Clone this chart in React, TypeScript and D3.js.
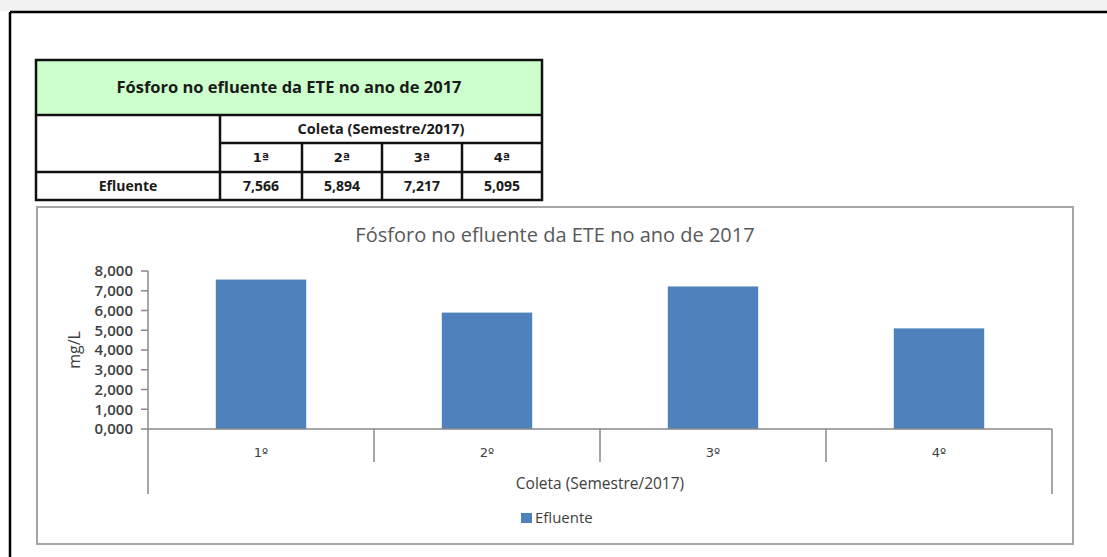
import React from "react";
import * as d3 from "d3";

const categories = ["1º", "2º", "3º", "4º"];
const tableHeaders = ["1ª", "2ª", "3ª", "4ª"];
const values = [7.566, 5.894, 7.217, 5.095];
const yTicks = [0, 1, 2, 3, 4, 5, 6, 7, 8];
const chartTitle = "Fósforo no efluente da ETE no ano de 2017";
const xTitle = "Coleta (Semestre/2017)";
const yTitle = "mg/L";
const seriesName = "Efluente";

const fmt = (v: number) => v.toFixed(3).replace(".", ",");

export default function App() {
  const W = 1107, H = 557;
  const x0 = 148, x1 = 1052, yTop = 271, yBot = 429;
  const x = d3.scaleBand<string>().domain(categories).range([x0, x1]).paddingInner(0.6).paddingOuter(0.3);
  const y = d3.scaleLinear().domain([0, 8]).range([yBot, yTop]);
  const step = x.step();
  const font = "'Open Sans', 'DejaVu Sans', sans-serif";
  const ordFont = "'DejaVu Sans', sans-serif";
  const txt = "#404040";

  // table geometry
  const tL = 36, tR = 542;
  const rows = [60, 115, 143, 172, 200];
  const cols = [220, 302, 382, 462];
  const colEdges = [...cols, tR];

  return (
    <svg width={W} height={H} style={{ position: "absolute", left: 0, top: 0, background: "#fff" }} fontFamily={font}>
      <rect x={0} y={0} width={W} height={11} fill="#f2f2f2" />
      {/* outer black frame */}
      <line x1={10} y1={12} x2={W} y2={12} stroke="#000" strokeWidth={2.5} />
      <line x1={10} y1={12} x2={10} y2={H} stroke="#000" strokeWidth={2.5} />

      {/* table */}
      <rect x={tL} y={rows[0]} width={tR - tL} height={rows[1] - rows[0]} fill="#ccffcc" />
      <rect x={tL} y={rows[0]} width={tR - tL} height={rows[4] - rows[0]} fill="none" stroke="#111" strokeWidth={2.5} />
      {[1, 2, 3].map((i) => (
        <line key={i} x1={i === 2 ? cols[0] : tL} x2={tR} y1={rows[i]} y2={rows[i]} stroke="#111" strokeWidth={2.5} />
      ))}
      <line x1={cols[0]} x2={cols[0]} y1={rows[1]} y2={rows[4]} stroke="#111" strokeWidth={2.5} />
      {cols.slice(1).map((c) => (
        <line key={c} x1={c} x2={c} y1={rows[2]} y2={rows[4]} stroke="#111" strokeWidth={2.5} />
      ))}
      <text x={289} y={(rows[0] + rows[1]) / 2} dy="0.35em" textAnchor="middle" fontSize={16.5} fontWeight={700} fill="#1a1a1a">{chartTitle}</text>
      <text x={(cols[0] + tR) / 2} y={(rows[1] + rows[2]) / 2} dy="0.35em" textAnchor="middle" fontSize={14.5} fontWeight={700} fill="#1a1a1a">{xTitle}</text>
      {tableHeaders.map((h, i) => {
        const cx = (colEdges[i] + colEdges[i + 1]) / 2;
        return <text key={h} x={cx} y={(rows[2] + rows[3]) / 2} dy="0.35em" textAnchor="middle" fontSize={13} fontWeight={700} fontFamily={ordFont} fill="#1a1a1a">{h}</text>;
      })}
      <text x={(tL + cols[0]) / 2} y={(rows[3] + rows[4]) / 2} dy="0.35em" textAnchor="middle" fontSize={14} fontWeight={700} fill="#1a1a1a">{seriesName}</text>
      {values.map((v, i) => {
        const cx = (colEdges[i] + colEdges[i + 1]) / 2;
        return <text key={i} x={cx} y={(rows[3] + rows[4]) / 2} dy="0.35em" textAnchor="middle" fontSize={14} fontWeight={700} fill="#1a1a1a">{fmt(v)}</text>;
      })}

      {/* chart area */}
      <rect x={37} y={207} width={1036} height={337} fill="#fff" stroke="#a6a6a6" strokeWidth={2} />
      <text x={555} y={235} dy="0.35em" textAnchor="middle" fontSize={20} fill="#595959">{chartTitle}</text>

      {/* bars */}
      {values.map((v, i) => (
        <rect key={i} x={x(categories[i])} y={y(v)} width={x.bandwidth()} height={yBot - y(v)} fill="#4f81bd" />
      ))}

      {/* y axis */}
      <line x1={x0} x2={x0} y1={yTop} y2={yBot} stroke="#888" strokeWidth={1.5} />
      {yTicks.map((t) => (
        <g key={t}>
          <line x1={x0 - 7} x2={x0} y1={y(t)} y2={y(t)} stroke="#888" strokeWidth={1.5} />
          <text x={133} y={y(t)} dy="0.35em" textAnchor="end" fontSize={15} fontWeight={600} fill={txt}>{fmt(t)}</text>
        </g>
      ))}
      <text transform={`translate(74,${(yTop + yBot) / 2}) rotate(-90)`} textAnchor="middle" dy="0.35em" fontSize={16} fill={txt}>{yTitle}</text>

      {/* x axis */}
      <line x1={x0} x2={x1} y1={yBot} y2={yBot} stroke="#888" strokeWidth={1.5} />
      {d3.range(categories.length + 1).map((i) => {
        const xx = x0 + i * step;
        const outer = i === 0 || i === categories.length;
        return <line key={i} x1={xx} x2={xx} y1={yBot} y2={outer ? 494 : 462} stroke="#888" strokeWidth={1.5} />;
      })}
      {categories.map((c) => (
        <text key={c} x={(x(c) as number) + x.bandwidth() / 2} y={452} dy="0.35em" textAnchor="middle" fontSize={13} fontFamily={ordFont} fill={txt}>{c}</text>
      ))}
      <text x={(x0 + x1) / 2} y={484} dy="0.35em" textAnchor="middle" fontSize={15.5} fill={txt}>{xTitle}</text>

      {/* legend */}
      <rect x={521} y={513} width={11} height={10} fill="#4f81bd" />
      <text x={535} y={518} dy="0.35em" fontSize={15} fill={txt}>{seriesName}</text>
    </svg>
  );
}
